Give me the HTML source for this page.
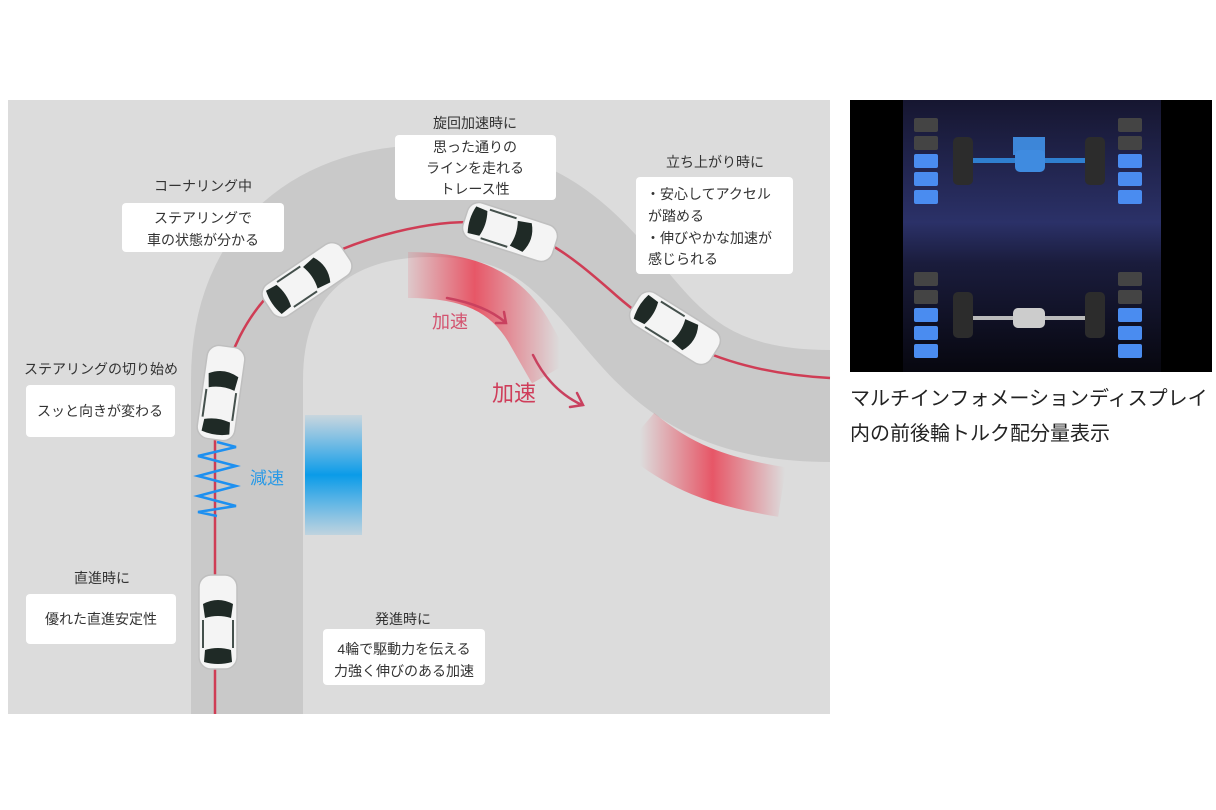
<!DOCTYPE html>
<html><head><meta charset="utf-8"><style>
html,body{margin:0;padding:0;background:#fff;}
svg{display:block;font-family:"Liberation Sans","Noto Sans CJK JP",sans-serif;}
</style></head><body>
<svg width="1216" height="810" viewBox="0 0 1216 810" xmlns="http://www.w3.org/2000/svg">
<defs>
  <linearGradient id="pk1" gradientUnits="userSpaceOnUse" x1="405" y1="0" x2="560" y2="0">
    <stop offset="0" stop-color="#e8485a" stop-opacity="0.1"/>
    <stop offset="0.45" stop-color="#e8485a" stop-opacity="0.9"/>
    <stop offset="1" stop-color="#e8485a" stop-opacity="0"/>
  </linearGradient>
  <linearGradient id="pk2" gradientUnits="userSpaceOnUse" x1="640" y1="0" x2="785" y2="0">
    <stop offset="0" stop-color="#e8485a" stop-opacity="0"/>
    <stop offset="0.5" stop-color="#e8485a" stop-opacity="0.9"/>
    <stop offset="1" stop-color="#e8485a" stop-opacity="0"/>
  </linearGradient>
  <linearGradient id="bl" x1="0" y1="0" x2="0" y2="1">
    <stop offset="0" stop-color="#1aa0ee" stop-opacity="0.1"/>
    <stop offset="0.5" stop-color="#0a9be8" stop-opacity="1"/>
    <stop offset="1" stop-color="#1aa0ee" stop-opacity="0.15"/>
  </linearGradient>
  <linearGradient id="navy" x1="0" y1="0" x2="0" y2="1">
    <stop offset="0" stop-color="#161630"/>
    <stop offset="0.45" stop-color="#2b3168"/>
    <stop offset="0.6" stop-color="#1a1c3c"/>
    <stop offset="1" stop-color="#07070f"/>
  </linearGradient>
  <g id="car">
    <rect x="-19" y="-47" width="38" height="94" rx="12" fill="#f4f4f4" stroke="#bfbfbf" stroke-width="1.5"/>
    <path d="M-15,-18 Q0,-26 15,-18 L13,-4 Q0,-8 -13,-4 Z" fill="#1f2a26"/>
    <path d="M-13,28 Q0,24 13,28 L14,40 Q0,44 -14,40 Z" fill="#1f2a26"/>
    <rect x="-16" y="-2" width="2" height="28" fill="#44504c"/>
    <rect x="14" y="-2" width="2" height="28" fill="#44504c"/>
  </g>
</defs>

<rect x="8" y="100" width="822" height="614" fill="#dcdcdc"/>
<path d="M247,714 L247,380 C247,255 330,201 430,201 C520,201 560,232 610,290 C660,350 700,406 830,406" fill="none" stroke="#c9c9c9" stroke-width="112"/>
<path d="M408,275 C470,275 505,292 528,330 L552,372" fill="none" stroke="url(#pk1)" stroke-width="46"/>
<path d="M638,432 C678,466 718,482 782,492" fill="none" stroke="url(#pk2)" stroke-width="50"/>
<rect x="305" y="415" width="57" height="120" fill="url(#bl)"/>
<path d="M215,714 L215,440 C218,360 250,300 300,270 C350,240 420,222 470,222 C530,222 570,255 610,290 C660,335 720,372 830,378" fill="none" stroke="#cf3d55" stroke-width="2.5"/>
<polyline points="217,442 236,447 198,456 236,466 198,476 236,486 198,496 236,506 198,512 217,516" fill="none" stroke="#1e90f0" stroke-width="2.5"/>
<g fill="none" stroke="#c9415f" stroke-width="2.5" stroke-linecap="round">
  <path d="M447,298 Q485,305 505,322"/><path d="M496,323 L506,323 L504,312"/>
  <path d="M533,355 Q550,390 582,405"/><path d="M570,407 L583,405 L577,393"/>
</g>
<text x="432" y="328" font-size="18" fill="#d35470">加速</text>
<text x="492" y="401" font-size="22" fill="#cf3d5a">加速</text>
<text x="250" y="484" font-size="17" fill="#2a9ae6">減速</text>
<use href="#car" transform="translate(218,622)"/>
<use href="#car" transform="translate(221,393) rotate(8)"/>
<use href="#car" transform="translate(307,280) rotate(56)"/>
<use href="#car" transform="translate(510,232) rotate(108)"/>
<use href="#car" transform="translate(675,328) rotate(122)"/>
<g font-size="14" fill="#333" text-anchor="middle">
  <text x="203" y="191">コーナリング中</text>
  <rect x="122" y="203" width="162" height="49" rx="4" fill="#fff"/>
  <text x="203" y="223">ステアリングで</text>
  <text x="203" y="245">車の状態が分かる</text>
  <text x="475" y="128">旋回加速時に</text>
  <rect x="395" y="135" width="161" height="65" rx="4" fill="#fff"/>
  <text x="475" y="152">思った通りの</text>
  <text x="475" y="173">ラインを走れる</text>
  <text x="475" y="194">トレース性</text>
  <text x="715" y="167">立ち上がり時に</text>
  <rect x="636" y="177" width="157" height="97" rx="4" fill="#fff"/>
  <g text-anchor="start">
    <text x="646" y="199">・安心してアクセル</text>
    <text x="648" y="221">が踏める</text>
    <text x="646" y="243">・伸びやかな加速が</text>
    <text x="648" y="264">感じられる</text>
  </g>
  <text x="101" y="374">ステアリングの切り始め</text>
  <rect x="26" y="385" width="149" height="52" rx="4" fill="#fff"/>
  <text x="100" y="416">スッと向きが変わる</text>
  <text x="102" y="583">直進時に</text>
  <rect x="26" y="594" width="150" height="50" rx="4" fill="#fff"/>
  <text x="101" y="624">優れた直進安定性</text>
  <text x="403" y="624">発進時に</text>
  <rect x="323" y="629" width="162" height="56" rx="4" fill="#fff"/>
  <text x="404" y="654">4輪で駆動力を伝える</text>
  <text x="404" y="676">力強く伸びのある加速</text>
</g>
<rect x="850" y="100" width="362" height="272" fill="#000"/>
<rect x="903" y="100" width="258" height="272" fill="url(#navy)"/>
<g>
  <g fill="#444"><rect x="914" y="118" width="24" height="14" rx="2"/><rect x="914" y="136" width="24" height="14" rx="2"/>
  <rect x="1118" y="118" width="24" height="14" rx="2"/><rect x="1118" y="136" width="24" height="14" rx="2"/>
  <rect x="914" y="272" width="24" height="14" rx="2"/><rect x="914" y="290" width="24" height="14" rx="2"/>
  <rect x="1118" y="272" width="24" height="14" rx="2"/><rect x="1118" y="290" width="24" height="14" rx="2"/></g>
  <g fill="#4a8cf0"><rect x="914" y="154" width="24" height="14" rx="2"/><rect x="914" y="172" width="24" height="14" rx="2"/><rect x="914" y="190" width="24" height="14" rx="2"/>
  <rect x="1118" y="154" width="24" height="14" rx="2"/><rect x="1118" y="172" width="24" height="14" rx="2"/><rect x="1118" y="190" width="24" height="14" rx="2"/>
  <rect x="914" y="308" width="24" height="14" rx="2"/><rect x="914" y="326" width="24" height="14" rx="2"/><rect x="914" y="344" width="24" height="14" rx="2"/>
  <rect x="1118" y="308" width="24" height="14" rx="2"/><rect x="1118" y="326" width="24" height="14" rx="2"/><rect x="1118" y="344" width="24" height="14" rx="2"/></g>
  <rect x="971" y="158" width="116" height="5" fill="#2f7fd0"/>
  <rect x="1013" y="137" width="32" height="18" fill="#3d86d8"/>
  <rect x="1015" y="150" width="30" height="22" rx="5" fill="#3f8be0"/>
  <rect x="971" y="316" width="116" height="4" fill="#bbb"/>
  <rect x="1013" y="308" width="32" height="20" rx="5" fill="#ccc"/>
  <g fill="#2c2c2c"><rect x="953" y="137" width="20" height="48" rx="5"/><rect x="1085" y="137" width="20" height="48" rx="5"/>
  <rect x="953" y="292" width="20" height="46" rx="5"/><rect x="1085" y="292" width="20" height="46" rx="5"/></g>
</g>
<g font-size="20" fill="#222">
  <text x="850" y="405">マルチインフォメーションディスプレイ</text>
  <text x="850" y="440">内の前後輪トルク配分量表示</text>
</g>
</svg>
</body></html>
